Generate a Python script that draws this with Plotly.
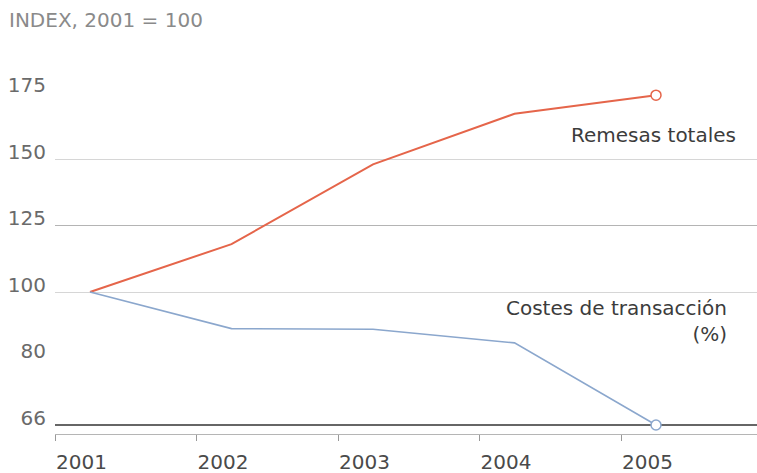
import numpy as np
import plotly.graph_objects as go

# ---- data ----
years = [2001, 2002, 2003, 2004, 2005]
remesas = [100, 118, 148, 167, 174]          # Remesas totales (index)
costes = [100, 89, 88.8, 84.7, 66]           # Costes de transacción (%) (index)
ytick_values = [66, 80, 100, 125, 150, 175]  # tick labels of the (non-linear) axis
grid_light = [100, 150]
grid_dark = [125]

# The original axis places its ticks at equal spacing: map values piecewise onto it
pos = list(range(len(ytick_values)))
def to_axis(v):
    return np.interp(v, ytick_values, pos)

RED = "#e5654a"
BLUE = "#8ba7cd"
FONT = "DejaVu Sans, Verdana, sans-serif"
FS = 20

fig = go.Figure()
fig.add_trace(go.Scatter(x=years, y=to_axis(remesas), mode="lines",
                         line=dict(color=RED, width=2), hoverinfo="skip"))
fig.add_trace(go.Scatter(x=years, y=to_axis(costes), mode="lines",
                         line=dict(color=BLUE, width=1.6), hoverinfo="skip"))
# hollow end markers
fig.add_trace(go.Scatter(x=years[-1:], y=to_axis(remesas[-1:]), mode="markers",
                         marker=dict(size=10, color="white", line=dict(color=RED, width=1.5)),
                         hoverinfo="skip"))
fig.add_trace(go.Scatter(x=years[-1:], y=to_axis(costes[-1:]), mode="markers",
                         marker=dict(size=10, color="white", line=dict(color=BLUE, width=1.5)),
                         hoverinfo="skip"))
# invisible traces to activate the gridline / label axes
fig.add_trace(go.Scatter(x=[years[0]], y=[to_axis(100)], yaxis="y2", mode="markers",
                         marker=dict(opacity=0), hoverinfo="skip"))
fig.add_trace(go.Scatter(x=[years[0]], y=[to_axis(100)], yaxis="y3", mode="markers",
                         marker=dict(opacity=0), hoverinfo="skip"))

step = 141.5
ppu = 66.5
x0 = years[0] - 35 / step
x1 = x0 + 702 / step
ylo = -9 / ppu
yhi = ylo + 394 / ppu
lift = 7.5 / ppu   # tick labels sit just above their gridline

fig.update_layout(
    width=757, height=473,
    margin=dict(l=55, r=0, t=40, b=39),
    paper_bgcolor="white", plot_bgcolor="white",
    showlegend=False,
    font=dict(family=FONT, size=FS, color="#5a5a5a"),
    xaxis=dict(range=[x0, x1], tickmode="array",
               tickvals=[y - 35 / step for y in years], ticktext=[str(y) for y in years],
               ticklabelposition="outside right", ticklabelstandoff=10,
               showgrid=False, zeroline=False, showline=True, linecolor="#b5b5b5", linewidth=1,
               ticks="outside", ticklen=6, tickcolor="#999999",
               tickfont=dict(family=FONT, size=FS, color="#4a4a4a")),
    yaxis=dict(range=[ylo, yhi], showticklabels=False, tickmode="array",
               tickvals=to_axis(grid_dark), showgrid=True, gridcolor="#b4b4b4", gridwidth=1,
               zeroline=True, zerolinecolor="#666666", zerolinewidth=2,
               showline=False, ticks=""),
    yaxis2=dict(range=[ylo, yhi], overlaying="y", tickmode="array",
                tickvals=to_axis(grid_light), showticklabels=False,
                showgrid=True, gridcolor="#d6d6d6", gridwidth=1, zeroline=False, ticks=""),
    yaxis3=dict(range=[ylo - lift, yhi - lift], overlaying="y", tickmode="array",
                tickvals=pos, ticktext=[str(v) for v in ytick_values],
                showgrid=False, zeroline=False, showline=False, ticks="",
                ticklabelstandoff=8,
                tickfont=dict(family=FONT, size=FS, color="#6a6a6a")),
    annotations=[
        dict(text="INDEX, 2001 = 100", xref="paper", yref="paper",
             x=-55 / 702, y=1 + 20 / 394, xanchor="left", yanchor="middle", xshift=7,
             showarrow=False, font=dict(family=FONT, size=FS, color="#8a8a8a")),
        dict(text="Remesas totales", xref="x", yref="y",
             x=years[-1], y=to_axis(remesas[-1]), xanchor="right", yanchor="middle",
             xshift=82, yshift=-40, showarrow=False,
             font=dict(family=FONT, size=FS, color="#3c3c3c")),
        dict(text="Costes de transacción<br>(%)", xref="x", yref="y",
             x=years[-1], y=to_axis(100), xanchor="right", yanchor="top", align="right",
             xshift=73, yshift=-2, showarrow=False,
             font=dict(family=FONT, size=FS, color="#3c3c3c")),
    ],
)

fig.write_html("out.html")
